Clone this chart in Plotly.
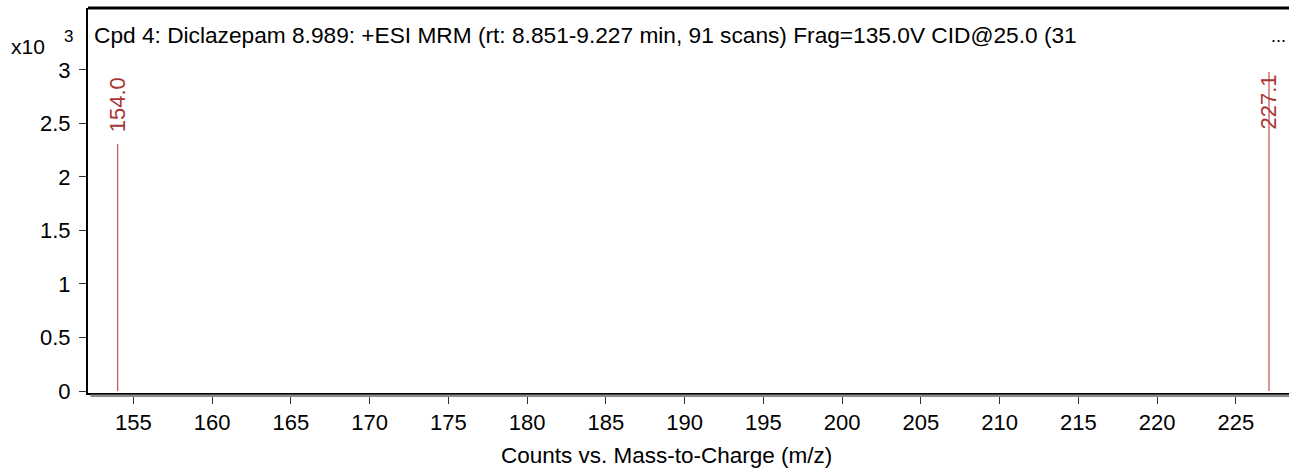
import plotly.graph_objects as go

# data
mz_values = [154.0, 227.1]
intensities = [2310, 2980]          # counts
peak_labels = ["154.0", "227.1"]
label_heights = [2.40, 2.42]        # x10^3, where labels are placed
x_ticks = list(range(155, 230, 5))
y_ticks = [0, 0.5, 1, 1.5, 2, 2.5, 3]
y_tick_text = ["0", "0.5", "1", "1.5", "2", "2.5", "3"]
title_text = "Cpd 4: Diclazepam 8.989: +ESI MRM (rt: 8.851-9.227 min, 91 scans) Frag=135.0V CID@25.0 (31"
x_title = "Counts vs. Mass-to-Charge (m/z)"

FONT = "Liberation Sans, Arial, sans-serif"
W, H = 1289, 469
ML, MR, MT, MB = 88, 0, 8, 76
PW, PH = W - ML - MR, H - MT - MB


def px_x(x):
    return (x - ML) / PW


def px_y(y):
    return (H - MB - y) / PH


xs, ys = [], []
for m, v in zip(mz_values, intensities):
    xs += [m, m, None]
    ys += [0, v / 1000.0, None]

fig = go.Figure()
fig.add_trace(go.Scatter(x=xs, y=ys, mode="lines",
                         line=dict(color="#c85a5a", width=1.3),
                         hoverinfo="skip", showlegend=False))

for m, lab, lh in zip(mz_values, peak_labels, label_heights):
    fig.add_annotation(x=m, y=lh, xref="x", yref="y", text=lab, textangle=-90,
                       showarrow=False, xanchor="center", yanchor="bottom",
                       font=dict(family=FONT, size=22, color="#a83434"))

fig.update_layout(
    width=W, height=H,
    margin=dict(l=ML, r=MR, t=MT, b=MB),
    paper_bgcolor="white", plot_bgcolor="white",
    showlegend=False,
    font=dict(family=FONT, size=22, color="black"),
    xaxis=dict(range=[152.12, 228.37], tickvals=x_ticks,
               ticktext=[str(t) for t in x_ticks],
               showgrid=False, zeroline=False,
               showline=True, linecolor="black", linewidth=2,
               ticks="outside", ticklen=9, tickwidth=1, tickcolor="#333333",
               tickfont=dict(family=FONT, size=22, color="black")),
    yaxis=dict(range=[-0.0187, 3.579], tickvals=y_ticks,
               ticktext=y_tick_text,
               showgrid=False, zeroline=False,
               showline=True, linecolor="black", linewidth=2,
               ticks="outside", ticklen=7, tickwidth=1, tickcolor="#333333",
               ticklabelstandoff=4,
               tickfont=dict(family=FONT, size=22, color="black")),
)

# top border line and bottom shadow
fig.add_shape(type="line", xref="paper", yref="paper", x0=0, x1=1, y0=1, y1=1,
              line=dict(color="black", width=3))
fig.add_shape(type="line", xref="paper", yref="paper", x0=0.002, x1=1, y0=-0.007, y1=-0.007,
              line=dict(color="#8a8a8a", width=2.5))

# title inside the plot box
fig.add_annotation(xref="paper", yref="paper", x=0, y=px_y(35),
                   xshift=4, text=title_text, showarrow=False,
                   xanchor="left", yanchor="middle",
                   font=dict(family=FONT, size=22.7, color="black"))
fig.add_annotation(xref="paper", yref="paper", x=px_x(1278), y=px_y(36),
                   text="...", showarrow=False, xanchor="center", yanchor="middle",
                   font=dict(family=FONT, size=18, color="black"))

# exponent label
fig.add_annotation(xref="paper", yref="paper", x=px_x(28), y=px_y(46),
                   text="x10", showarrow=False, xanchor="center", yanchor="middle",
                   font=dict(family=FONT, size=21, color="black"))
fig.add_annotation(xref="paper", yref="paper", x=px_x(68), y=px_y(36),
                   text="3", showarrow=False, xanchor="center", yanchor="middle",
                   font=dict(family=FONT, size=17, color="black"))

# x axis title
fig.add_annotation(xref="paper", yref="paper", x=px_x(666), y=px_y(455),
                   text=x_title, showarrow=False, xanchor="center", yanchor="middle",
                   font=dict(family=FONT, size=22.5, color="black"))

fig.write_html("out.html", config={"displayModeBar": False},
               post_script="document.body.style.margin='0';document.body.style.overflow='hidden';")
